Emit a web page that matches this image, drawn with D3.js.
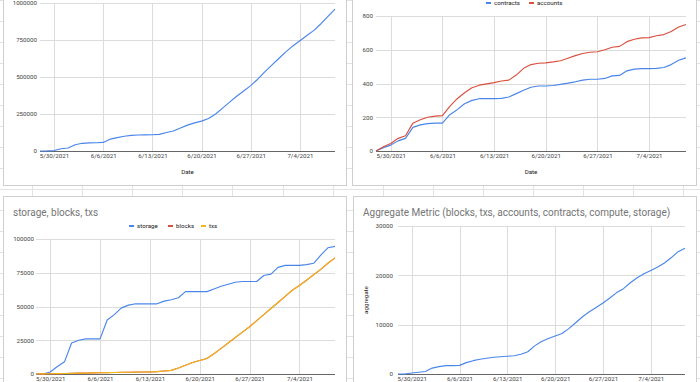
<!DOCTYPE html>
<html><head><meta charset="utf-8">
<script src="https://cdn.jsdelivr.net/npm/d3@7"></script>
<style>
html,body{margin:0;padding:0;background:#fff;overflow:hidden}
svg{display:block;font-family:Roboto,Arial,sans-serif}
</style></head>
<body><svg id="c" width="700" height="382"></svg>
<script>
// ---------- data ----------
const dates = ["5/28/2021","5/29/2021","5/30/2021","5/31/2021","6/1/2021","6/2/2021","6/3/2021","6/4/2021","6/5/2021","6/6/2021",
 "6/7/2021","6/8/2021","6/9/2021","6/10/2021","6/11/2021","6/12/2021","6/13/2021","6/14/2021","6/15/2021","6/16/2021",
 "6/17/2021","6/18/2021","6/19/2021","6/20/2021","6/21/2021","6/22/2021","6/23/2021","6/24/2021","6/25/2021","6/26/2021",
 "6/27/2021","6/28/2021","6/29/2021","6/30/2021","7/1/2021","7/2/2021","7/3/2021","7/4/2021","7/5/2021","7/6/2021",
 "7/7/2021","7/8/2021","7/9/2021"];
const xTickLabels = ["5/30/2021","6/6/2021","6/13/2021","6/20/2021","6/27/2021","7/4/2021"];

const compute = [0,500,3000,15000,20000,42000,52000,55000,56000,58000,80000,90000,100000,106000,108000,109000,110000,112000,125000,135000,
 155000,175000,190000,202000,220000,250000,290000,330000,370000,405000,442000,485000,535000,580000,625000,670000,710000,745000,780000,815000,
 860000,910000,958000];
const contracts = [0,20,35,60,75,140,155,162,165,165,215,245,280,300,310,310,310,312,320,340,
 360,378,385,385,388,395,402,410,420,425,425,430,445,448,475,485,488,488,490,495,512,538,552];
const accounts = [0,25,45,75,90,165,185,200,207,210,265,310,345,375,390,398,405,415,420,450,
 490,512,520,522,528,535,550,565,578,585,588,600,615,620,648,662,670,672,683,690,708,735,750];
const storage = [0,0,1500,5500,9000,23000,25000,26000,26000,26000,40000,44000,49000,51000,52000,52000,52000,52000,54000,55000,
 56500,61000,61000,61000,61000,63000,65000,66500,68000,68500,68500,68500,73000,74000,79000,80500,80500,80500,81000,82000,
 88000,93500,94500];
const blocks = [0,100,200,300,400,500,600,700,800,900,1000,1100,1200,1300,1400,1500,1600,1800,2200,2700,
 4500,6500,8500,10000,11500,15000,19000,23000,27000,31000,35000,39500,44000,48500,53000,57500,62000,65500,69500,73500,
 77500,82000,86000];
const txs = [0,100,200,300,400,500,600,700,800,900,1000,1100,1200,1300,1400,1500,1600,1800,2200,2700,
 4500,6500,8500,10000,11500,15000,19000,23000,27000,31000,35000,39500,44000,48500,53000,57500,62000,65500,69500,73500,
 77500,82000,86000];
const aggregate = [0,0,200,350,500,1200,1500,1700,1700,1750,2300,2700,3000,3200,3400,3500,3600,3700,4000,4500,
 5700,6600,7200,7700,8200,9200,10400,11600,12600,13500,14400,15400,16500,17300,18500,19500,20300,21000,21700,22500,
 23600,24800,25500];

const yTicksCompute = [0,250000,500000,750000,1000000];
const yTicksAccounts = [0,200,400,600,800];
const yTicksStorage = [0,25000,50000,75000,100000];
const yTicksAggregate = [0,10000,20000,30000];

// ---------- drawing ----------
const parse = d3.timeParse("%m/%d/%Y");
const dateObjs = dates.map(parse);
const svg = d3.select("#c");

// spreadsheet background grid
const bg = svg.append("g");
for (let x = 32; x < 700; x += 50.1) bg.append("line").attr("x1",Math.round(x)+0.5).attr("x2",Math.round(x)+0.5).attr("y1",0).attr("y2",382).attr("stroke","#e3e3e3");
for (let y = 189 - 21*9; y < 382; y += 21) bg.append("line").attr("x1",0).attr("x2",700).attr("y1",y+0.5).attr("y2",y+0.5).attr("stroke","#e3e3e3");

const BLUE="#4a86ea", RED="#d9503f", YELLOW="#f2b71e";

function chart(o){
  const g = svg.append("g");
  g.append("rect").attr("x",o.px+0.5).attr("y",o.py+0.5).attr("width",o.pw).attr("height",o.ph)
    .attr("fill","#fff").attr("stroke","#cfcfcf");
  const x = d3.scaleTime().domain([dateObjs[0], dateObjs[dateObjs.length-1]]).range([o.x0,o.x1]);
  const y = d3.scaleLinear().domain([0,o.yMax]).range([o.y0,o.y1]);
  // gridlines
  g.append("g").selectAll("line").data(o.yTicks.slice(1)).join("line")
    .attr("x1",o.x0).attr("x2",o.x1).attr("y1",d=>Math.round(y(d))+0.5).attr("y2",d=>Math.round(y(d))+0.5)
    .attr("stroke","#dcdcdc");
  const xt = xTickLabels.map(parse);
  g.append("g").selectAll("line").data(xt).join("line")
    .attr("x1",d=>Math.round(x(d))+0.5).attr("x2",d=>Math.round(x(d))+0.5).attr("y1",o.y0).attr("y2",o.y1)
    .attr("stroke","#dcdcdc");
  // y axis labels
  const ya = d3.axisLeft(y).tickValues(o.yTicks).tickSize(0).tickPadding(0).tickFormat(d3.format("d"));
  const yg = g.append("g").attr("transform",`translate(${o.labelX},0)`).call(ya);
  yg.select(".domain").remove();
  yg.selectAll("text").attr("font-size",6.2).attr("fill","#444").attr("font-family","Roboto,Arial,sans-serif");
  // x axis labels
  const xa = d3.axisBottom(x).tickValues(xt).tickSize(0).tickPadding(0).tickFormat(d3.timeFormat("%-m/%-d/%Y"));
  const xg = g.append("g").attr("transform",`translate(0,${o.y0+3})`).call(xa);
  xg.select(".domain").remove();
  xg.selectAll("text").attr("font-size",6.2).attr("fill","#444").attr("font-family","Roboto,Arial,sans-serif");
  // baseline
  g.append("line").attr("x1",o.x0).attr("x2",o.x1).attr("y1",o.y0+0.5).attr("y2",o.y0+0.5).attr("stroke","#666").attr("stroke-width",1);
  // series
  o.series.forEach(s=>{
    const line = d3.line().x((d,i)=>x(dateObjs[i])).y(d=>y(d));
    g.append("path").datum(s.values).attr("d",line).attr("fill","none").attr("stroke",s.color)
      .attr("stroke-width",1.15).attr("stroke-linejoin","round");
  });
  if (o.title) g.append("text").attr("x",o.px+10).attr("y",o.py+19.5).text(o.title)
    .attr("font-size",10).attr("fill","#757575");
  if (o.xTitle) g.append("text").attr("x",(o.x0+o.x1)/2).attr("y",o.y0+23).attr("text-anchor","middle")
    .attr("font-size",6.2).attr("fill","#222").text(o.xTitle);
  if (o.yTitle) g.append("text").attr("transform",`translate(${o.yTitleX},${(o.y0+o.y1)/2}) rotate(-90)`)
    .attr("text-anchor","middle").attr("font-size",6.2).attr("fill","#222").text(o.yTitle);
  if (o.legend){
    o.legend.items.forEach((it,i)=>{
      const lx = o.legend.xs[i];
      g.append("line").attr("x1",lx).attr("x2",lx+5).attr("y1",o.legend.y).attr("y2",o.legend.y)
        .attr("stroke",it.color).attr("stroke-width",2);
      g.append("text").attr("x",lx+8).attr("y",o.legend.y+2.2).attr("font-size",6.2).attr("fill","#222").text(it.name);
    });
  }
}

chart({px:3,py:-20,pw:343,ph:205,x0:40,x1:335,y0:151,y1:3,yMax:1000000,yTicks:yTicksCompute,labelX:37,
  xTitle:"Date",series:[{values:compute,color:BLUE}]});
chart({px:352,py:-20,pw:344,ph:205,x0:376,x1:686,y0:151,y1:16,yMax:800,yTicks:yTicksAccounts,labelX:373,
  xTitle:"Date",series:[{values:contracts,color:BLUE},{values:accounts,color:RED}],
  legend:{y:3,xs:[486,529],items:[{name:"contracts",color:BLUE},{name:"accounts",color:RED}]}});
chart({px:3,py:196,pw:343,ph:210,x0:36,x1:335,y0:374,y1:239,yMax:100000,yTicks:yTicksStorage,labelX:34,
  title:"storage, blocks, txs",series:[{values:storage,color:BLUE},{values:blocks,color:RED},{values:txs,color:YELLOW}],
  legend:{y:226,xs:[129,168,201],items:[{name:"storage",color:BLUE},{name:"blocks",color:RED},{name:"txs",color:YELLOW}]}});
chart({px:353,py:196,pw:343,ph:210,x0:398,x1:685,y0:374,y1:226,yMax:30000,yTicks:yTicksAggregate,labelX:393,
  title:"Aggregate Metric (blocks, txs, accounts, contracts, compute, storage)",yTitle:"aggregate",yTitleX:368,
  series:[{values:aggregate,color:BLUE}]});
</script></body></html>
